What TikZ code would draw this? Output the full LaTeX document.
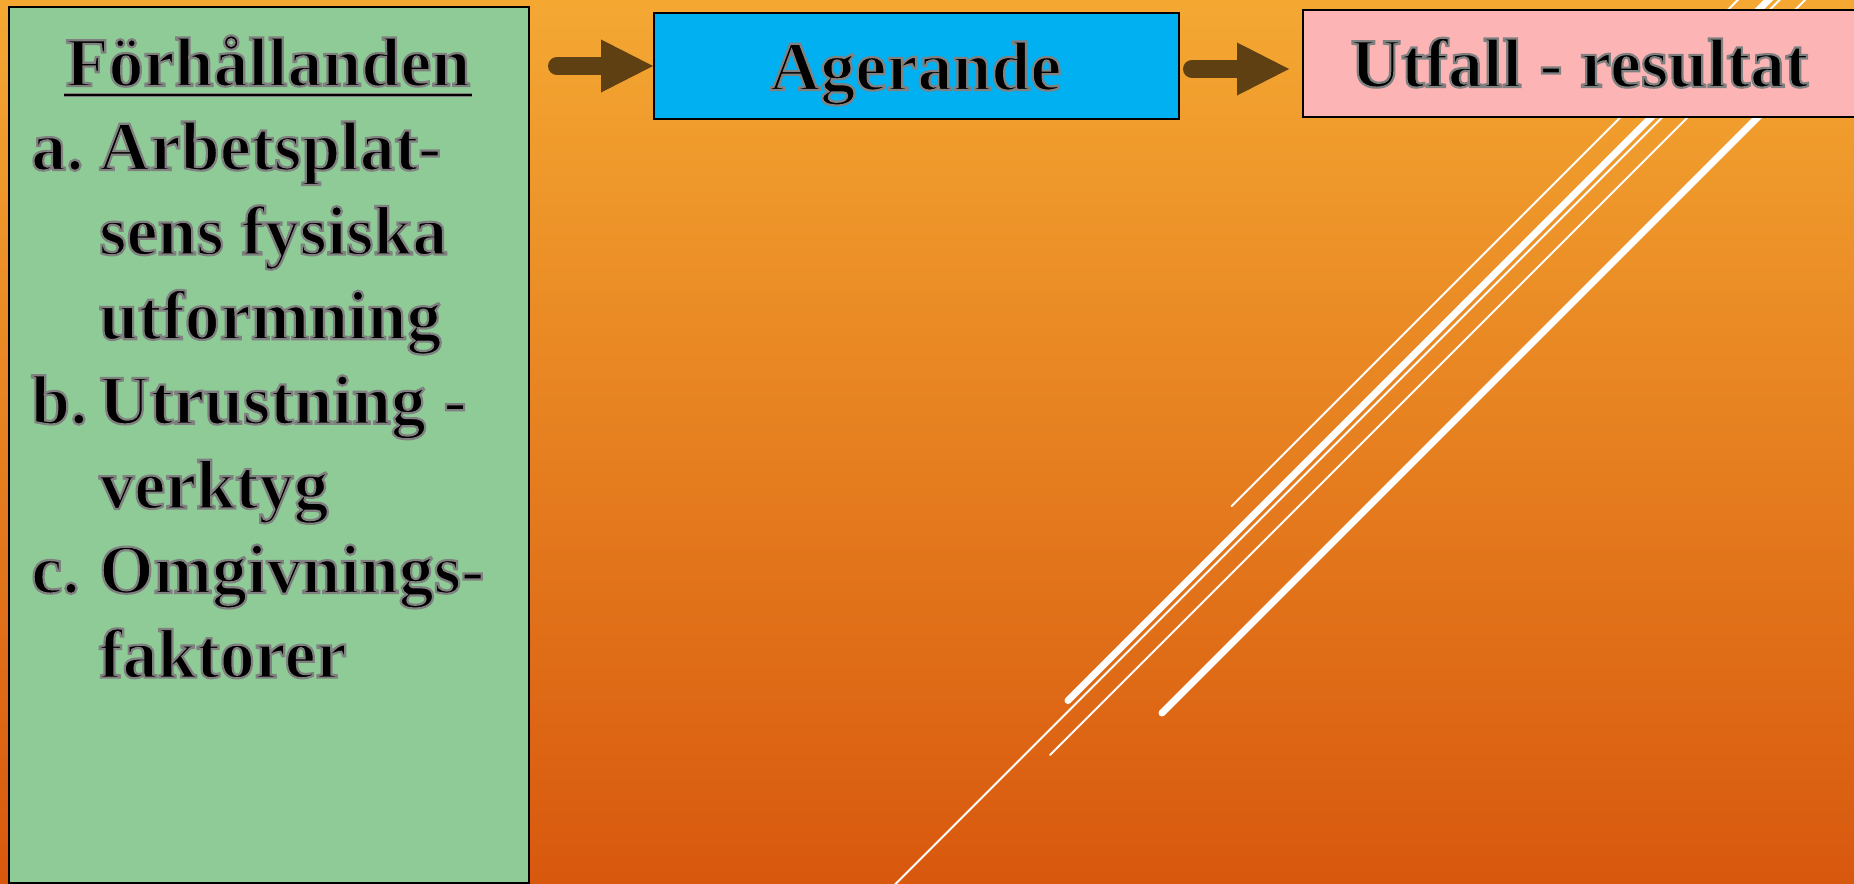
\documentclass[tikz,border=0pt]{standalone}
\usepackage{fontspec}
\setmainfont{Liberation Serif}
\usetikzlibrary{arrows.meta}
\definecolor{bgtop}{RGB}{244,168,50}
\definecolor{bgbot}{RGB}{216,88,14}
\definecolor{condgreen}{RGB}{142,203,150}
\definecolor{actblue}{RGB}{0,176,240}
\definecolor{respink}{RGB}{252,180,180}
\definecolor{arrbrown}{RGB}{94,64,18}
\definecolor{outl}{RGB}{128,128,128}
\newcommand{\olt}[1]{\special{pdf:literal direct q 2 Tr 0.5 0.5 0.5 RG 2.2 w}#1\special{pdf:literal direct Q}}
\begin{document}
\begin{tikzpicture}[x=1pt,y=-1pt,
  box/.style={draw=black, line width=2pt, anchor=north west, inner sep=0pt},
  txt/.style={inner sep=0pt, text=black, font=\fontsize{70}{80}\selectfont\bfseries},
  arr/.style={draw=arrbrown, line width=18pt, line cap=round, -{Triangle[length=52pt,width=53pt,line width=0pt]}},
  thinline/.style={draw=white, line cap=round, line width=2pt},
  thickline/.style={draw=white, line cap=round, line width=7pt},
]
\useasboundingbox (0,0) rectangle (1854,883);
\clip (0,0) rectangle (1854,883);
\shade[top color=bgtop, bottom color=bgbot] (0,0) rectangle (1854,883);
% decorative white lines (x+y = const)
\draw[thinline]  (1231.5,506.2) -- (1757.7,-20);
\draw[thickline] (1068,700.5) -- (1788.5,-20);
\draw[thinline]  (879.5,900) -- (1799.5,-20);
\draw[thinline]  (1050,755) -- (1825,-20);
\draw[thickline] (1162,713) -- (1895,-20);
% boxes
\node[box, fill=condgreen, minimum width=520pt, minimum height=876pt] (cond) at (8,6) {};
\node[box, fill=actblue, minimum width=525pt, minimum height=106pt] (act) at (653,12) {};
\node[box, fill=respink, minimum width=570pt, minimum height=107pt] (res) at (1302,9) {};
% arrows
\coordinate (s1) at (557,66);
\draw[arr] (s1) -- (s1 -| act.west);
\coordinate (s2) at (1192,69);
\draw[arr, shorten >=13pt] (s2) -- (s2 -| res.west);
% texts
\node[txt, anchor=base] (title) at (268,86) {\olt{Förhållanden}};
\draw[outl, line width=4.6pt] (64,95) -- (472,95);
\draw[black, line width=1.8pt] (64,95) -- (472,95);
\node[txt, anchor=base west] (la) at (31,170) {\olt{a.}};
\node[txt, anchor=base west] (la1) at (99,170) {\olt{Arbetsplat-}};
\node[txt, anchor=base west] (la2) at (99,254.6) {\olt{sens fysiska}};
\node[txt, anchor=base west] (la3) at (99,339.2) {\olt{utformning}};
\node[txt, anchor=base west] (lb) at (31,423.8) {\olt{b.}};
\node[txt, anchor=base west] (lb1) at (99,423.8) {\olt{Utrustning -}};
\node[txt, anchor=base west] (lb2) at (99,508.4) {\olt{verktyg}};
\node[txt, anchor=base west] (lc) at (31,593) {\olt{c.}};
\node[txt, anchor=base west] (lc1) at (99,593) {\olt{Omgivnings-}};
\node[txt, anchor=base west] (lc2) at (99,677.6) {\olt{faktorer}};
\node[txt, anchor=base] (acttxt) at (915.5,90) {\olt{Agerande}};
\node[txt, anchor=base] (restxt) at (1579.5,87) {\olt{Utfall - resultat}};
\end{tikzpicture}
\end{document}
